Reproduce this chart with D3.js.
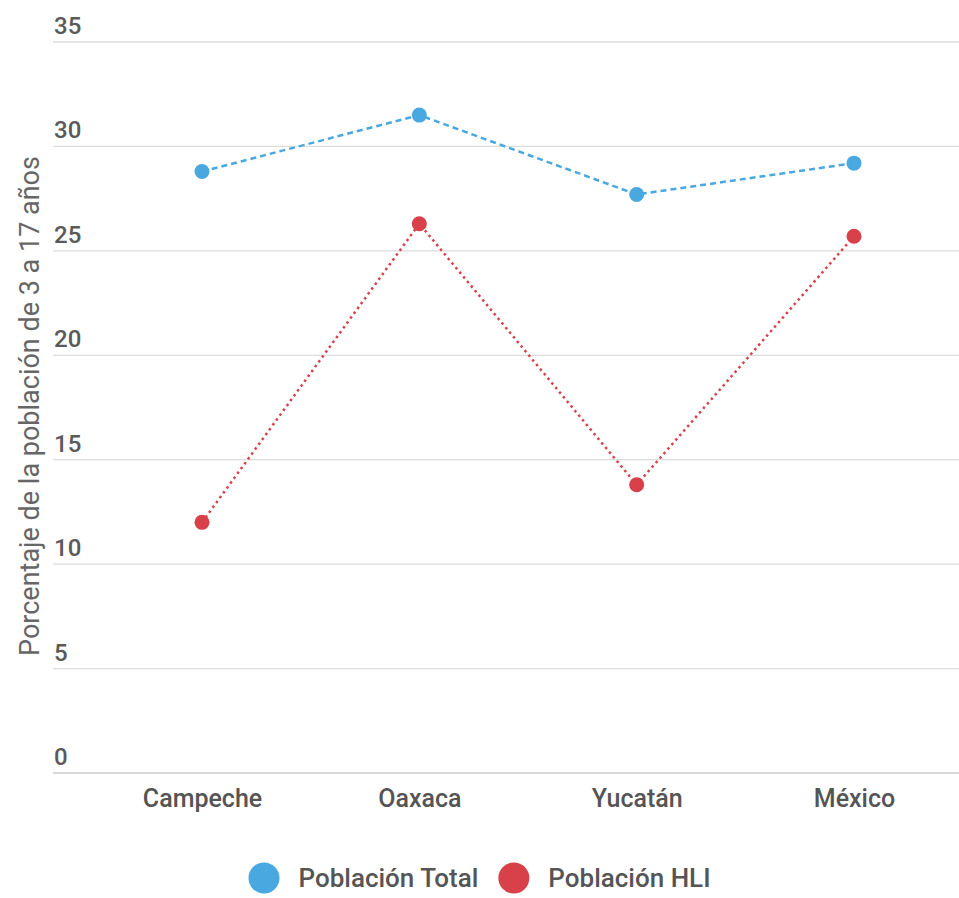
<!DOCTYPE html>
<html><head><meta charset="utf-8">
<script src="https://cdn.jsdelivr.net/npm/d3@7"></script>
<style>body{margin:0;background:#fff;}svg{display:block;font-family:Roboto,"Noto Sans",sans-serif;}</style>
</head><body>
<svg id="c" width="959" height="898"></svg>
<script>
const categories = ["Campeche", "Oaxaca", "Yucatán", "México"];
const poblacionTotal = [28.8, 31.5, 27.7, 29.2];
const poblacionHLI = [12.0, 26.3, 13.8, 25.7];
const yTicks = [0, 5, 10, 15, 20, 25, 30, 35];
const seriesNames = ["Población Total", "Población HLI"];
const colors = ["#4aa8e0", "#d8414a"];

const svg = d3.select("#c");
const x = d3.scalePoint().domain(categories).range([202, 854]);
const y = d3.scaleLinear().domain([0, 35]).range([773, 42]);

// gridlines
const grid = svg.append("g");
grid.selectAll("line").data(yTicks).join("line")
  .attr("x1", 53).attr("x2", 959)
  .attr("y1", d => y(d)).attr("y2", d => y(d))
  .attr("stroke", d => d === 0 ? "#cccccc" : "#dcdcdc").attr("stroke-width", d => d === 0 ? 1.6 : 1.3);
grid.selectAll("text").data(yTicks).join("text")
  .attr("x", 54).attr("y", d => y(d) - 8)
  .attr("font-size", 24).attr("font-weight", 500).attr("fill", "#5a5a5a")
  .text(d => d);

// y-axis title
svg.append("text")
  .attr("transform", "translate(39,406) rotate(-90)")
  .attr("text-anchor", "middle").attr("font-size", 27).attr("font-weight", 400).attr("fill", "#666")
  .text("Porcentaje de la población de 3 a 17 años");

// x labels
const xAxis = d3.axisBottom(x).tickSize(0).tickPadding(0);
const gx = svg.append("g").attr("transform", "translate(0,807)").call(xAxis);
gx.select(".domain").remove();
gx.selectAll("text").attr("font-size", 25).attr("font-weight", 500).attr("fill", "#555")
  .attr("font-family", "Roboto, sans-serif").attr("dy", 0);

const series = [poblacionTotal, poblacionHLI];
const dashes = ["6,4", "2.5,3.5"];
const line = d3.line().x((d, i) => x(categories[i])).y(d => y(d));
series.forEach((s, k) => {
  svg.append("path").datum(s).attr("d", line)
    .attr("fill", "none").attr("stroke", colors[k]).attr("stroke-width", 2.5)
    .attr("stroke-dasharray", dashes[k]);
  svg.append("g").selectAll("circle").data(s).join("circle")
    .attr("cx", (d, i) => x(categories[i])).attr("cy", d => y(d)).attr("r", 7.5)
    .attr("fill", colors[k]);
});

// legend (centered)
const lg = svg.append("g");
const r = 15.5, gap = 19, itemGap = 20;
let cx = 0;
seriesNames.forEach((n, k) => {
  const g = lg.append("g");
  g.append("circle").attr("cx", r).attr("cy", 0).attr("r", r).attr("fill", colors[k]);
  const t = g.append("text").attr("x", 2 * r + gap).attr("y", 0).attr("dy", "0.35em")
    .attr("font-size", 26).attr("font-weight", 500).attr("fill", "#555").text(n);
  const w = 2 * r + gap + t.node().getComputedTextLength();
  g.attr("transform", `translate(${cx},0)`);
  cx += w + itemGap;
});
const total = cx - itemGap;
lg.attr("transform", `translate(${(959 - total) / 2},878)`);
</script>
</body></html>
